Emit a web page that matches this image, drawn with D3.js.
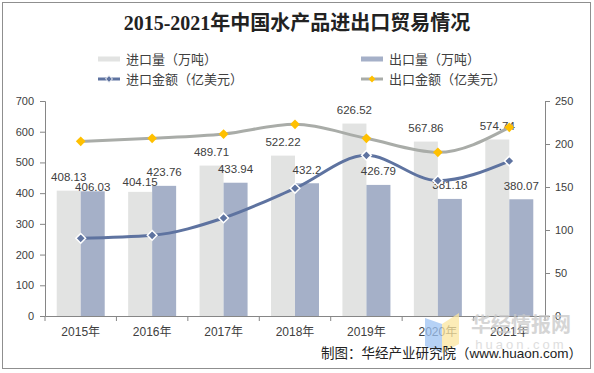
<!DOCTYPE html>
<html>
<head>
<meta charset="utf-8">
<script src="https://cdn.jsdelivr.net/npm/d3@7/dist/d3.min.js"></script>
<style>
  body { margin: 0; background: #fff; }
  svg { display: block; }
</style>
</head>
<body>
<svg id="chart" width="594" height="373"></svg>
<script>
const years = ['2015年', '2016年', '2017年', '2018年', '2019年', '2020年', '2021年']
const importVolume = [408.13, 404.15, 489.71, 522.22, 626.52, 567.86, 574.74]
const exportVolume = [406.03, 423.76, 433.94, 432.2, 426.79, 381.18, 380.07]
const importValue = [90.3, 93.8, 114.0, 148.5, 186.8, 157.4, 180.2]
const exportValue = [203.1, 206.6, 211.6, 222.9, 206.6, 190.3, 219.4]
const leftTicks = [0, 100, 200, 300, 400, 500, 600, 700]
const rightTicks = [0, 50, 100, 150, 200, 250]

const title = '2015-2021年中国水产品进出口贸易情况'
const seriesNames = ['进口量（万吨）', '出口量（万吨）', '进口金额（亿美元）', '出口金额（亿美元）']
const source = '制图：华经产业研究院（www.huaon.com）'

const C = {
  impBar: '#e2e3e2',
  expBar: '#a5b0c8',
  impLine: '#5e73a0',
  expLine: '#a9aca8',
  expMark: '#ffc000',
  axis: '#868686',
  text: '#404040'
}
const SANS = '"Liberation Sans", Arial, "Noto Sans CJK SC", sans-serif'

const svg = d3.select('#chart')

const margin = { top: 101, right: 49, bottom: 57, left: 45 }
const W = 594, H = 373
const plotW = W - margin.left - margin.right
const baseY = H - margin.bottom

// border
svg.append('rect')
  .attr('x', 2.5).attr('y', 2.5)
  .attr('width', 588).attr('height', 366)
  .attr('fill', 'none')
  .attr('stroke', '#8f8f8f')

// title
svg.append('text')
  .attr('x', W / 2).attr('y', 23)
  .attr('text-anchor', 'middle')
  .attr('dominant-baseline', 'central')
  .attr('font-family', '"Liberation Serif", "Noto Sans CJK SC", serif')
  .attr('font-weight', 'bold')
  .attr('font-size', 20)
  .attr('fill', '#222')
  .text(title)

// scales
const x = d3.scaleBand().domain(years).range([margin.left, margin.left + plotW])
const yL = d3.scaleLinear().domain([0, 700]).range([baseY, margin.top])
const yR = d3.scaleLinear().domain([0, 250]).range([baseY, margin.top])
const bw = x.bandwidth() * 0.336
const cx = d => x(d) + x.bandwidth() / 2

// axes
const gL = svg.append('g')
  .attr('transform', `translate(${margin.left},0)`)
  .call(d3.axisLeft(yL).tickValues(leftTicks).tickSize(5).tickPadding(6))
const gR = svg.append('g')
  .attr('transform', `translate(${margin.left + plotW},0)`)
  .call(d3.axisRight(yR).tickValues(rightTicks).tickSize(5).tickPadding(5))
const gB = svg.append('g')
  .attr('transform', `translate(0,${baseY})`)
  .call(d3.axisBottom(x).tickSize(0).tickPadding(11))

for (const g of [gL, gR, gB]) {
  g.select('.domain').attr('stroke', C.axis)
  g.selectAll('.tick line').attr('stroke', C.axis)
  g.selectAll('text')
    .attr('font-family', SANS)
    .attr('fill', C.text)
}
gL.selectAll('text').attr('font-size', 11)
gR.selectAll('text').attr('font-size', 11)
gB.selectAll('text').attr('font-size', 12)

// category boundary ticks on x axis
gB.selectAll('.bound')
  .data(years.concat(['end']))
  .join('line')
  .attr('class', 'bound')
  .attr('x1', (d, i) => margin.left + i * x.bandwidth())
  .attr('x2', (d, i) => margin.left + i * x.bandwidth())
  .attr('y1', 0).attr('y2', 5)
  .attr('stroke', C.axis)

// bars
svg.append('g').selectAll('rect')
  .data(years)
  .join('rect')
  .attr('x', d => cx(d) - bw)
  .attr('y', (d, i) => yL(importVolume[i]))
  .attr('width', bw)
  .attr('height', (d, i) => baseY - yL(importVolume[i]))
  .attr('fill', C.impBar)

svg.append('g').selectAll('rect')
  .data(years)
  .join('rect')
  .attr('x', d => cx(d))
  .attr('y', (d, i) => yL(exportVolume[i]))
  .attr('width', bw)
  .attr('height', (d, i) => baseY - yL(exportVolume[i]))
  .attr('fill', C.expBar)

// bar labels, nudging the smaller one down when a pair collides
const labels = []
years.forEach((d, i) => {
  let ci = yL(importVolume[i]) - 13.5
  let ce = yL(exportVolume[i]) - 13.5
  if (Math.abs(ci - ce) < 10) {
    if (importVolume[i] < exportVolume[i]) ci = ce + 10
    else ce = ci + 10
  }
  labels.push({ x: cx(d) - bw / 2, y: ci, v: importVolume[i] })
  labels.push({ x: cx(d) + bw / 2, y: ce, v: exportVolume[i] })
})

svg.append('g').selectAll('text')
  .data(labels)
  .join('text')
  .attr('x', d => d.x)
  .attr('y', d => d.y)
  .attr('dy', '0.35em')
  .attr('text-anchor', 'middle')
  .attr('font-family', SANS)
  .attr('font-size', 11.5)
  .attr('fill', C.text)
  .text(d => d.v)

// lines
const line = d3.line()
  .x((v, i) => cx(years[i]))
  .y(v => yR(v))
  .curve(d3.curveMonotoneX)

const diamond = d3.symbol().type(d3.symbolDiamond2).size(60)

function drawSeries (values, stroke, markFill, markStroke) {
  svg.append('path')
    .datum(values)
    .attr('d', line)
    .attr('fill', 'none')
    .attr('stroke', stroke)
    .attr('stroke-width', 3)
    .attr('stroke-linecap', 'round')

  svg.append('g').selectAll('path')
    .data(values)
    .join('path')
    .attr('transform', (v, i) => `translate(${cx(years[i])},${yR(v)})`)
    .attr('d', diamond)
    .attr('fill', markFill)
    .attr('stroke', markStroke)
    .attr('stroke-width', markStroke === 'none' ? 0 : 1.5)
}

drawSeries(importValue, C.impLine, C.impLine, '#fff')
drawSeries(exportValue, C.expLine, C.expMark, 'none')

// legend
const legend = svg.append('g')
  .attr('font-family', SANS)
  .attr('font-size', 13)
  .attr('fill', C.text)

const legendPos = [
  { x: 98, y: 59 }, { x: 361, y: 59 },
  { x: 98, y: 79 }, { x: 361, y: 79 }
]

seriesNames.forEach((name, i) => {
  const p = legendPos[i]
  if (i < 2) {
    legend.append('rect')
      .attr('x', p.x).attr('y', p.y - 2.5)
      .attr('width', 22).attr('height', 5)
      .attr('fill', i === 0 ? C.impBar : C.expBar)
  } else {
    const stroke = i === 2 ? C.impLine : C.expLine
    legend.append('line')
      .attr('x1', p.x).attr('x2', p.x + 22)
      .attr('y1', p.y).attr('y2', p.y)
      .attr('stroke', stroke)
      .attr('stroke-width', 3)
    legend.append('path')
      .attr('transform', `translate(${p.x + 11},${p.y})`)
      .attr('d', d3.symbol().type(d3.symbolDiamond2).size(30))
      .attr('fill', i === 2 ? C.impLine : C.expMark)
      .attr('stroke', i === 2 ? '#fff' : 'none')
  }
  legend.append('text')
    .attr('x', p.x + 28).attr('y', p.y)
    .attr('dy', '0.35em')
    .text(name)
})

// watermark
const wm = svg.append('g').attr('opacity', 0.75)
wm.append('path')
  .attr('d', 'M425,318 L442,324 L442,353 L425,346 Z')
  .attr('fill', '#9ec3f3')
wm.append('path')
  .attr('d', 'M442,324 L459,313 L459,344 L442,353 Z')
  .attr('fill', '#fbe6a0')
wm.append('text')
  .attr('x', 521).attr('y', 325)
  .attr('dy', '0.35em')
  .attr('text-anchor', 'middle')
  .attr('font-family', '"Noto Sans CJK SC", sans-serif')
  .attr('font-weight', 'bold')
  .attr('font-size', 20)
  .attr('fill', '#c8c8c8')
  .text('华经情报网')
wm.append('text')
  .attr('x', 521).attr('y', 344)
  .attr('dy', '0.35em')
  .attr('text-anchor', 'middle')
  .attr('font-family', SANS)
  .attr('font-size', 13)
  .attr('letter-spacing', 3)
  .attr('fill', '#d4d4d4')
  .text('huaon.com')

// source
svg.append('text')
  .attr('x', 582).attr('y', 353)
  .attr('dy', '0.35em')
  .attr('text-anchor', 'end')
  .attr('font-family', SANS)
  .attr('font-size', 13.5)
  .attr('fill', '#222')
  .text(source)
</script>
</body>
</html>
